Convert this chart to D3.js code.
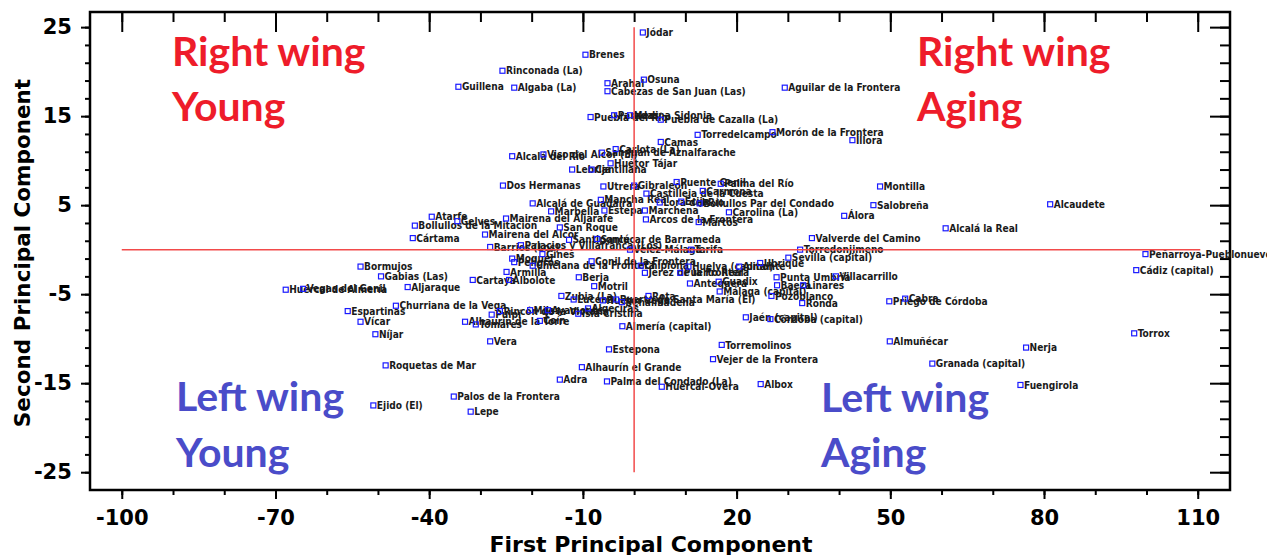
<!DOCTYPE html>
<html>
<head>
<meta charset="utf-8">
<script src="https://cdn.jsdelivr.net/npm/d3@7/dist/d3.min.js"></script>
<style>
  body { margin: 0; background: #fff; }
  svg { display: block; }
</style>
</head>
<body>
<div id="chart"></div>
<script>
// Municipios y sus puntuaciones en las dos primeras componentes
const municipios = [
  "Jódar", "Brenes", "Arahal", "Osuna", "Cabezas de San Juan (Las)", "Rinconada (La)", "Guillena", "Algaba (La)",
  "Aguilar de la Frontera", "Puebla del Río", "Paradas", "Medina Sidonia", "Puebla de Cazalla (La)", "Camas",
  "Torredelcampo", "Morón de la Frontera", "Íllora", "Carlota (La)", "Alcalá del Río", "Viso del Alcor (El)",
  "San Juan de Aznalfarache", "Huétor Tájar", "Lebrija", "Cantillana", "Dos Hermanas", "Utrera", "Gibraleón",
  "Puente Genil", "Palma del Río", "Castilleja de la Cuesta", "Carmona", "Mancha Real", "Lora del Río", "Écija",
  "Bollullos Par del Condado", "Carolina (La)", "Álora", "Salobreña", "Montilla", "Alcalá la Real", "Alcaudete",
  "Valverde del Camino", "Torredonjimeno", "Peñarroya-Pueblonuevo", "Cádiz (capital)", "Torrox", "Nerja",
  "Fuengirola", "Granada (capital)", "Almuñécar", "Priego de Córdoba", "Cabra", "Jaén (capital)",
  "Córdoba (capital)", "Ronda", "Pozoblanco", "Linares", "Villacarrillo", "Punta Umbría", "Baeza",
  "Sevilla (capital)", "Ubrique", "Alcalá de Guadaíra", "Marbella", "Estepa", "Marchena", "Arcos de la Frontera",
  "Martos", "Mairena del Aljarafe", "Mairena del Alcor", "San Roque", "Sanlúcar de Barrameda", "Santiponce",
  "Palacios y Villafranca (Los)", "Barrios (Los)", "Tarifa", "Vélez-Málaga", "Gines", "Moguer", "Peligros",
  "Chiclana de la Frontera", "Conil de la Frontera", "Armilla", "Albolote", "Cartaya", "Berja", "Motril",
  "Jerez de la Frontera", "Puerto Real", "Antequera", "Guadix", "Málaga (capital)", "Zubia (La)", "Lucena",
  "Huétor Vega", "Rota", "Puerto de Santa María (El)", "Benalmádena", "Isla Cristina", "Algeciras", "Coín",
  "Alhaurín de la Torre", "Tomares", "Almería (capital)", "Estepona", "Alhaurín el Grande", "Adra",
  "Palma del Condado (La)", "Huércal-Overa", "Torremolinos", "Vejer de la Frontera", "Albox",
  "Huércal de Almería", "Vegas del Genil", "Aljaraque", "Espartinas", "Churriana de la Vega", "Vícar", "Níjar",
  "Pulpí", "Rincón de la Victoria", "Vera", "Roquetas de Mar", "Palos de la Frontera", "Ejido (El)", "Lepe",
  "Atarfe", "Gelves", "Bollullos de la Mitación", "Cártama", "Bormujos", "Gabias (Las)", "Chipiona",
  "Huelva (capital)", "Almonte", "Mijas", "Ayamonte"
];

const pc1 = [
  1.7, -9.5, -5.2, 1.9, -5.2, -25.7, -34.3, -23.4,
  29.4, -8.5, -3.9, -0.8, 5.2, 5.2,
  12.4, 27.0, 42.6, -3.6, -23.8, -17.7,
  -6.3, -4.6, -12.1, -8.3, -25.6, -6.0, 0.0,
  8.3, 16.9, 2.4, 13.4, -6.5, 5.0, 9.2,
  12.8, 18.5, 41.0, 46.7, 48.0, 60.8, 81.2,
  34.7, 32.4, 99.8, 98.0, 97.6, 76.5,
  75.4, 58.2, 49.9, 49.8, 52.9, 21.8,
  26.6, 32.8, 26.8, 33.0, 39.4, 27.8, 27.9,
  30.1, 24.6, -19.8, -16.2, -5.8, 2.1, 2.3,
  12.6, -25.0, -29.1, -14.5, -7.2, -12.7,
  -22.1, -28.1, 11.1, -0.8, -17.9, -23.8, -23.4,
  -19.8, -8.3, -24.9, -24.4, -31.5, -10.8, -7.8,
  2.1, 9.0, 10.9, 16.5, 16.7, -14.2, -11.8,
  -6.1, 2.8, -3.5, -2.4, -10.9, -9.0, -18.4,
  -33.0, -30.9, -2.3, -4.9, -10.2, -14.5,
  -5.3, 5.4, 17.1, 15.4, 24.7,
  -68.0, -64.6, -44.2, -55.9, -46.5, -53.4, -50.5,
  -27.8, -26.2, -28.1, -48.5, -35.2, -50.9, -31.9,
  -39.5, -34.5, -42.8, -43.2, -53.4, -49.4, 1.3,
  10.6, 20.5, -20.3, -16.8
];

const pc2 = [
  24.4, 21.9, 18.7, 19.1, 17.8, 20.1, 18.3, 18.2,
  18.2, 14.9, 15.1, 15.1, 14.6, 12.1,
  12.9, 13.2, 12.3, 11.3, 10.5, 10.7,
  10.9, 9.7, 9.0, 9.0, 7.2, 7.1, 7.2,
  7.6, 7.4, 6.3, 6.6, 5.6, 5.3, 5.4,
  5.2, 4.2, 3.8, 5.0, 7.1, 2.4, 5.1,
  1.3, 0.0, -0.5, -2.3, -9.4, -11.0,
  -15.2, -12.8, -10.3, -5.8, -5.5, -7.6,
  -7.8, -6.0, -5.2, -4.0, -3.0, -3.1, -4.0,
  -0.9, -1.5, 5.2, 4.3, 4.4, 4.4, 3.4,
  3.1, 3.5, 1.7, 2.5, 1.2, 1.1,
  0.5, 0.3, 0.0, 0.0, -0.5, -1.0, -1.4,
  -1.8, -1.3, -2.5, -3.4, -3.4, -3.1, -4.1,
  -2.6, -2.6, -3.8, -3.6, -4.7, -5.2, -5.6,
  -5.7, -5.2, -5.6, -5.9, -7.2, -6.6, -8.0,
  -8.1, -8.4, -8.6, -11.2, -13.2, -14.6,
  -14.8, -15.4, -10.7, -12.3, -15.1,
  -4.5, -4.4, -4.2, -6.9, -6.3, -8.1, -9.5,
  -7.3, -6.9, -10.3, -13.0, -16.5, -17.5, -18.2,
  3.7, 3.2, 2.7, 1.3, -1.9, -3.0, -1.8,
  -1.9, -1.9, -6.8, -6.8
];

// Etiquetas de los ejes
const xTickLabels = [-100, -70, -40, -10, 20, 50, 80, 110];
const yTickLabels = [-25, -15, -5, 5, 15, 25];
const xMinorTicks = [-100, -90, -80, -70, -60, -50, -40, -30, -20, -10, 0, 10, 20, 30, 40, 50, 60, 70, 80, 90, 100, 110];
const yMinorTicks = [-25, -23, -21, -19, -17, -15, -13, -11, -9, -7, -5, -3, -1, 1, 3, 5, 7, 9, 11, 13, 15, 17, 19, 21, 23, 25];

const quadrantTitles = ["Right wing", "Young", "Right wing", "Aging", "Left wing", "Young", "Left wing", "Aging"];

const width = 1267, height = 555;
const margin = { top: 12, right: 37, bottom: 65, left: 90 };

const svg = d3.select('#chart')
  .append('svg')
  .attr('width', width)
  .attr('height', height);

const x = d3.scaleLinear().domain([-106.2, 116.3]).range([margin.left, width - margin.right]);
const y = d3.scaleLinear().domain([-27, 26.7]).range([height - margin.bottom, margin.top]);

const tickFont = "'DejaVu Sans', sans-serif";

// Ejes: ticks mayores con etiqueta, menores sin ella
function drawAxis(axisFn, scale, major, minor, transform, majorLen, minorLen, labels) {
  const gMinor = svg.append('g').attr('transform', transform)
    .call(axisFn(scale).tickValues(minor).tickSize(minorLen).tickFormat(''));
  const gMajor = svg.append('g').attr('transform', transform)
    .call(axisFn(scale).tickValues(major).tickSize(majorLen).tickPadding(6)
      .tickFormat(labels ? d => d : ''));
  [gMinor, gMajor].forEach(g => {
    g.select('.domain').remove();
    g.selectAll('line').attr('stroke', '#000').attr('stroke-width', 2);
  });
  gMajor.selectAll('text')
    .attr('font-family', tickFont)
    .attr('font-weight', 'bold')
    .attr('font-size', 21)
    .attr('fill', '#000');
  return gMajor;
}

const bottom = height - margin.bottom;
const right = width - margin.right;

drawAxis(d3.axisBottom, x, xTickLabels, xMinorTicks, `translate(0,${bottom})`, 9, 5, true)
  .selectAll('text').attr('dy', '0.95em');
drawAxis(d3.axisTop, x, xTickLabels, xMinorTicks, `translate(0,${margin.top})`, -20, -10, false);
drawAxis(d3.axisLeft, y, yTickLabels, yMinorTicks, `translate(${margin.left},0)`, 9, 5, true)
  .selectAll('text').attr('dx', '-0.15em');
drawAxis(d3.axisRight, y, yTickLabels, yMinorTicks, `translate(${right},0)`, -20, -10, false);

// Marco
svg.append('rect')
  .attr('x', margin.left)
  .attr('y', margin.top)
  .attr('width', right - margin.left)
  .attr('height', bottom - margin.top)
  .attr('fill', 'none')
  .attr('stroke', '#000')
  .attr('stroke-width', 2.5);

// Títulos de los ejes
svg.append('text')
  .attr('x', 651)
  .attr('y', 552)
  .attr('text-anchor', 'middle')
  .attr('font-family', tickFont)
  .attr('font-weight', 'bold')
  .attr('font-size', 22)
  .text('First Principal Component');

svg.append('text')
  .attr('transform', `translate(30,253) rotate(-90)`)
  .attr('text-anchor', 'middle')
  .attr('font-family', tickFont)
  .attr('font-weight', 'bold')
  .attr('font-size', 21.5)
  .text('Second Principal Component');

// Cuadrantes
const quadPos = [[172, 66], [172, 121], [917, 66], [917, 121], [176, 411], [176, 467], [821, 412], [821, 467]];
svg.append('g').selectAll('text')
  .data(quadrantTitles)
  .join('text')
  .attr('x', (d, i) => quadPos[i][0])
  .attr('y', (d, i) => quadPos[i][1])
  .attr('font-family', "Lato, 'Open Sans', sans-serif")
  .attr('font-weight', 'bold')
  .attr('font-size', 41)
  .attr('fill', (d, i) => i < 4 ? '#ee1c2a' : '#4a4cc9')
  .text(d => d);

// Puntos y etiquetas
const pts = municipios.map((name, i) => ({ name, pc1: pc1[i], pc2: pc2[i] }));

const labelFont = "'DejaVu Sans Condensed', 'DejaVu Sans', sans-serif";

svg.append('g').selectAll('text')
  .data(pts)
  .join('text')
  .attr('x', d => x(d.pc1) + 3.5)
  .attr('y', d => y(d.pc2) + 3.6)
  .attr('font-family', labelFont)
  .attr('font-weight', 'bold')
  .attr('font-size', 10.1)
  .attr('fill', '#1a1a1a')
  .text(d => d.name);

svg.append('g').selectAll('rect')
  .data(pts)
  .join('rect')
  .attr('x', d => x(d.pc1) - 2.5)
  .attr('y', d => y(d.pc2) - 2.5)
  .attr('width', 5)
  .attr('height', 5)
  .attr('fill', 'none')
  .attr('stroke', '#1a1aff')
  .attr('stroke-width', 1.2);

// Líneas de referencia en el origen
svg.append('line')
  .attr('x1', x(0)).attr('x2', x(0))
  .attr('y1', y(25)).attr('y2', y(-25))
  .attr('stroke', '#f24a4a')
  .attr('stroke-width', 1.5);

svg.append('line')
  .attr('x1', x(-100)).attr('x2', x(110.5))
  .attr('y1', y(0)).attr('y2', y(0))
  .attr('stroke', '#f24a4a')
  .attr('stroke-width', 1.5);
</script>
</body>
</html>
